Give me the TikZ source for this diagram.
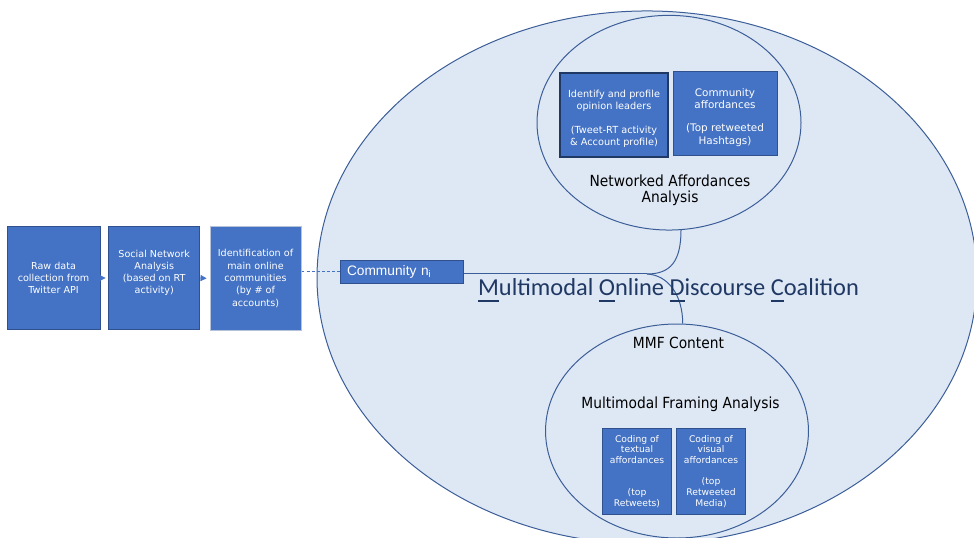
\documentclass[tikz,border=0pt]{standalone}
\usepackage{fontspec}
\usetikzlibrary{arrows.meta}
\setmainfont{DejaVu Sans}
\newfontfamily\boxfont{DejaVu Sans}
\newfontfamily\labfont[FakeStretch=0.9]{DejaVu Sans}
\newfontfamily\titlefont{Carlito}
\newfontfamily\arialfont{Liberation Sans}
\definecolor{boxfill}{HTML}{4472C4}
\definecolor{boxline}{HTML}{2F528F}
\definecolor{ellfill}{HTML}{DEE8F5}
\definecolor{ellline}{HTML}{3C5E98}
\definecolor{titlecol}{HTML}{1F3864}
\newcommand{\ulch}[1]{\setbox0\hbox{#1}\rlap{\rule[-4.6pt]{\wd0}{1.4pt}}#1}
\begin{document}
\begin{tikzpicture}[x=0.75pt,y=-0.75pt,
  ell/.style={draw=ellline, fill=ellfill, line width=0.75pt},
  bx/.style={draw=boxline, fill=boxfill, text=white, align=center, inner sep=0pt, line width=0.75pt},
  leftbox/.style={bx, font=\boxfont\fontsize{7.2}{9.2}\selectfont},
  topbox/.style={bx, font=\boxfont\fontsize{7.3}{9.2}\selectfont, minimum height=62.6pt},
  botbox/.style={bx, font=\boxfont\fontsize{6.9}{8}\selectfont, minimum width=52.2pt, minimum height=64.5pt},
  lab/.style={font=\labfont\fontsize{11.5}{12}\selectfont, text=black, align=center, inner sep=0pt},
  conn/.style={draw=ellline, line width=0.75pt},
  smallarrow/.style={draw=boxfill, line width=0.6pt, -{Triangle[length=4.5pt,width=4.5pt]}, shorten >=2.2pt},
  dashconn/.style={draw=boxfill, line width=0.6pt, dash pattern=on 2.2pt off 1.6pt}
]
\useasboundingbox (0,0) rectangle (974,538);
\clip (0,0) rectangle (974,538);
\fill[white] (0,0) rectangle (974,538);

% big ellipse and two inner ellipses
\draw[ell] (647,277.5) ellipse [x radius=247.5pt, y radius=199.9pt];
\draw[ell] (669,122.7) ellipse [x radius=99pt, y radius=80.5pt];
\draw[ell] (677,431) ellipse [x radius=98.6pt, y radius=80.25pt];

% connector end points
\coordinate (ntop) at (681,230);
\coordinate (nbot) at (682.7,323.5);
\coordinate (jn) at (647,274);

% left boxes
\node[leftbox, minimum width=69.75pt, minimum height=76.5pt] (raw) at (53.5,278) {Raw data\\collection from\\Twitter API};
\node[leftbox, minimum width=67.9pt, minimum height=76.5pt] (sna) at (154.25,278) {Social Network\\Analysis\\(based on RT\\activity)\\\mbox{}};
\node[leftbox, draw=boxline!35!white, minimum width=68.25pt, minimum height=77.25pt] (ident) at (255.5,278.5) {Identification of\\main online\\communities\\(by \# of\\accounts)};

\draw[smallarrow] (raw.east) -- (sna.west);
\draw[smallarrow] (sna.east) -- (ident.west);

% community box
\node[bx, font=\arialfont\fontsize{10.3}{12}\selectfont, minimum height=17.6pt, text width=81.75pt, inner xsep=5.25pt, align=left] (comm) at (401.5,271.75) {Community n\textsubscript{i}};
\draw[dashconn] (ident.east |- comm.west) -- (comm.west);

% connectors to the two analyses
\draw[conn] (comm.east |- jn) -- (jn);
\draw[conn] (jn) .. controls (670,274) and (681,262) .. (ntop);
\draw[conn] (jn) .. controls (668,275) and (682.7,295) .. (nbot);

% title
\node[font=\titlefont\fontsize{18.3}{22}\selectfont, text=titlecol, anchor=base, inner sep=0pt] (title) at (668.5,295.5)
  {\ulch{M}ultimodal \ulch{O}nline \ulch{D}iscourse \ulch{C}oalition};

% networked affordances
\node[topbox, draw=titlecol, line width=1.2pt, minimum width=81pt, minimum height=63pt] (leaders) at (614,115)
  {\rule{0pt}{11.5pt}Identify and profile\\opinion leaders\\[8.3pt](Tweet-RT activity\\\& Account profile)};
\node[topbox, font=\boxfont\fontsize{7.8}{9.2}\selectfont, minimum width=78pt] (affc) at (725,113.5)
  {\rule{0pt}{11.5pt}Community\\affordances\\[8.3pt](Top retweeted\\Hashtags)};
\node[lab] (nalab) at (670,190) {Networked Affordances\\Analysis};

% multimodal framing
\node[lab, anchor=base] (mmf) at (678.5,348.3) {MMF Content};
\node[lab, anchor=base] (mfa) at (680.5,408.3) {Multimodal Framing Analysis};
\node[botbox] (textual) at (637,471.3) {Coding of\\textual\\affordances\\\mbox{}\\\mbox{}\\(top\\Retweets)};
\node[botbox] (visual) at (711,471.3) {Coding of\\visual\\affordances\\\mbox{}\\(top\\Retweeted\\Media)};
\end{tikzpicture}
\end{document}
